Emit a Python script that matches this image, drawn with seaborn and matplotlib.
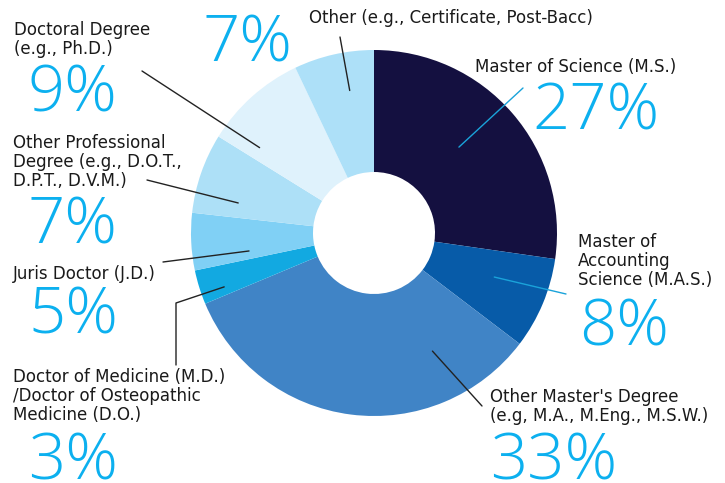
import numpy as np
import matplotlib.pyplot as plt
import seaborn as sns

# data, clockwise from 12 o'clock
labels = [
    "Master of Science (M.S.)",
    "Master of\nAccounting\nScience (M.A.S.)",
    "Other Master's Degree\n(e.g, M.A., M.Eng., M.S.W.)",
    "Doctor of Medicine (M.D.)\n/Doctor of Osteopathic\nMedicine (D.O.)",
    "Juris Doctor (J.D.)",
    "Other Professional\nDegree (e.g., D.O.T.,\nD.P.T., D.V.M.)",
    "Doctoral Degree\n(e.g., Ph.D.)",
    "Other (e.g., Certificate, Post-Bacc)",
]
pct = [27, 8, 33, 3, 5, 7, 9, 7]

colors = ["#141040", "#075ba8", "#4084c6", "#12a9e1",
          "#80d0f5", "#ade0f7", "#dff2fc", "#ade0f8"]

sns.set_theme(style="white")
plt.rcParams['font.family'] = ['DejaVu Sans']

W, H = 725, 483
fig = plt.figure(figsize=(W / 100, H / 100), dpi=100)
ax = fig.add_axes([0, 0, 1, 1])

def py(y):
    # pixel row from top -> data y
    return H - y

cx, cy, R = 374, py(233), 183
wedges, _ = ax.pie(pct, colors=colors, startangle=90, counterclock=False,
                   radius=R, center=(cx, cy),
                   wedgeprops=dict(width=R * 2 / 3, edgecolor='none'))

# pie() resets the limits, so set them afterwards
ax.set_xlim(0, W)
ax.set_ylim(0, H)
ax.set_aspect('equal')
ax.axis('off')

# label placement: (x, top y) for label, (x, baseline y) for the percent,
# leader anchor (fraction along wedge, radius fraction), leader end point, line colour
place = [
    dict(lab=(475, 58), num=(532, 130), anc=(0.455, 0.66), end=(523, 88), lc="#1aa3da"),
    dict(lab=(578, 233), num=(579, 345), anc=(0.41, 0.70), end=(566, 294), lc="#1aa3da"),
    dict(lab=(490, 388), num=(490, 479), anc=(0.22, 0.72), end=(482, 406), lc="#222222"),
    dict(lab=(13, 368), num=(28, 479), anc=(0.27, 0.87), end=None, lc="#222222"),
    dict(lab=(13, 265), num=(28, 333), anc=(0.2, 0.69), end=(163, 262), lc="#222222"),
    dict(lab=(13, 134), num=(28, 243), anc=(0.24, 0.76), end=(147, 180), lc="#222222"),
    dict(lab=(14, 21), num=(28, 112), anc=(0.15, 0.78), end=(142, 71), lc="#222222"),
    dict(lab=(309, 9), num=(203, 62), anc=(0.62, 0.79), end=(340, 37), lc="#222222"),
]

for w, lab, p, pl in zip(wedges, labels, pct, place):
    f, rf = pl['anc']
    ang = np.deg2rad(w.theta2 - (w.theta2 - w.theta1) * f)
    ax_x = cx + R * rf * np.cos(ang)
    ax_y = cy + R * rf * np.sin(ang)
    if pl['end'] is not None:
        ex, ey = pl['end']
        ax.plot([ax_x, ex], [ax_y, py(ey)], color=pl['lc'], lw=1.0)
    else:
        # elbow leader for the thin M.D./D.O. slice
        ax.plot([ax_x, 176, 176], [ax_y, py(303), py(365)], color=pl['lc'], lw=1.0)
    lx, ly = pl['lab']
    ax.text(lx, py(ly), lab, fontsize=12, color="#1a1a1a", va='top', ha='left',
            linespacing=1.08)
    nx, ny = pl['num']
    ax.text(nx, py(ny), f"{p}%", fontsize=47, color="#0cb0ef", va='baseline',
            ha='left', family=['Open Sans', 'DejaVu Sans'], fontweight='light')

fig.savefig("out.png", dpi=100)
